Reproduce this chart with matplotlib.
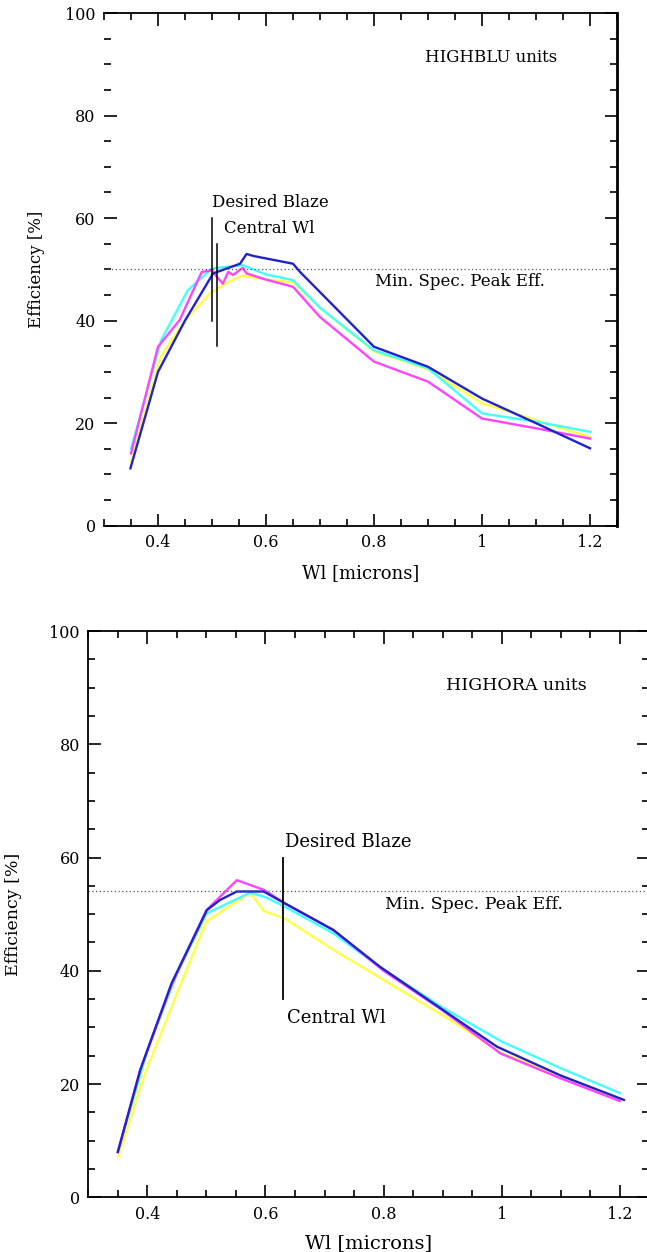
import matplotlib
matplotlib.use("Agg")
import matplotlib.pyplot as plt
from matplotlib.ticker import MultipleLocator, FixedLocator

plt.rcParams['font.family'] = ['DejaVu Serif']

# ---------------- data: top panel (HIGHBLU) ----------------
blu_yellow_x = [0.35, 0.405, 0.45, 0.496, 0.53, 0.557, 0.60, 0.65, 0.70, 0.80, 0.90, 1.00, 1.10, 1.20]
blu_yellow_y = [12.5, 33.0, 40.0, 45.3, 47.5, 48.8, 48.0, 47.5, 42.5, 34.0, 30.5, 23.9, 20.6, 17.3]

blu_cyan_x = [0.35, 0.406, 0.455, 0.50, 0.557, 0.60, 0.65, 0.70, 0.80, 0.90, 1.00, 1.10, 1.20]
blu_cyan_y = [15.0, 36.2, 45.9, 50.2, 50.8, 49.0, 47.9, 42.5, 34.2, 30.7, 21.9, 20.3, 18.3]

blu_magenta_x = [0.35, 0.40, 0.44, 0.481, 0.50, 0.507, 0.52, 0.53, 0.539, 0.557, 0.564, 0.60, 0.65, 0.70, 0.80, 0.90, 1.00, 1.10, 1.20]
blu_magenta_y = [14.1, 34.9, 40.1, 49.5, 49.8, 48.8, 47.2, 49.5, 48.9, 50.3, 49.2, 48.0, 46.6, 40.7, 32.0, 28.1, 20.9, 19.0, 17.0]

blu_blue_x = [0.349, 0.40, 0.45, 0.502, 0.552, 0.564, 0.577, 0.65, 0.663, 0.80, 0.90, 1.00, 1.10, 1.20]
blu_blue_y = [11.2, 30.0, 40.0, 49.2, 51.1, 53.0, 52.6, 51.1, 49.5, 34.9, 31.0, 24.8, 20.0, 15.1]

# ---------------- data: bottom panel (HIGHORA) ----------------
ora_yellow_x = [0.351, 0.394, 0.45, 0.50, 0.574, 0.597, 0.633, 0.715, 0.80, 0.913, 1.00, 1.10, 1.20]
ora_yellow_y = [7.2, 21.3, 36.0, 48.7, 53.8, 50.6, 49.2, 43.7, 38.4, 31.3, 25.5, 21.5, 17.2]

ora_cyan_x = [0.35, 0.40, 0.45, 0.50, 0.574, 0.60, 0.633, 0.715, 0.80, 0.90, 1.00, 1.10, 1.20]
ora_cyan_y = [8.0, 26.0, 39.5, 50.1, 53.8, 53.0, 51.3, 46.6, 40.2, 33.5, 27.5, 22.8, 18.4]

ora_magenta_x = [0.35, 0.388, 0.441, 0.50, 0.5515, 0.597, 0.633, 0.715, 0.80, 0.90, 0.998, 1.10, 1.20]
ora_magenta_y = [8.0, 22.5, 37.5, 50.7, 56.0, 54.3, 51.9, 47.2, 40.0, 33.0, 25.4, 21.0, 17.0]

ora_blue_x = [0.35, 0.388, 0.441, 0.5007, 0.523, 0.5515, 0.597, 0.633, 0.715, 0.794, 0.913, 0.992, 1.10, 1.207]
ora_blue_y = [8.0, 22.5, 37.8, 50.7, 52.5, 54.0, 54.0, 51.9, 47.2, 40.7, 32.2, 26.6, 21.5, 17.2]

xtick_vals = [0.4, 0.6, 0.8, 1.0, 1.2]
xtick_labels = ["0.4", "0.6", "0.8", "1", "1.2"]
ytick_vals = [0, 20, 40, 60, 80, 100]
ytick_labels = ["0", "20", "40", "60", "80", "100"]

C_YEL = '#ffff44'
C_CYA = '#44ffff'
C_MAG = '#ff44ff'
C_BLU = '#2222cc'

W, H = 647, 1252
fig = plt.figure(figsize=(W / 100, H / 100), dpi=100)

ax1 = fig.add_axes([104 / W, 1 - 525.7 / H, 513 / W, 512.7 / H])
ax2 = fig.add_axes([88.3 / W, 1 - 1197.3 / H, 561 / W, 566.3 / H])

FS = 11.5


def style(ax, hide_left):
    ax.set_xlim(0.3, 1.25)
    ax.set_ylim(0, 100)
    ax.xaxis.set_major_locator(FixedLocator(xtick_vals))
    ax.set_xticklabels(xtick_labels)
    ax.xaxis.set_minor_locator(MultipleLocator(0.05))
    ax.yaxis.set_major_locator(FixedLocator(ytick_vals))
    ax.set_yticklabels(ytick_labels)
    ax.yaxis.set_minor_locator(MultipleLocator(5))
    ax.tick_params(which='both', direction='in', top=True, right=True, width=1.2, labelsize=FS, pad=6)
    ax.tick_params(which='major', length=9)
    ax.tick_params(which='minor', length=5)
    for s in ax.spines.values():
        s.set_linewidth(1.3)
    ax.spines['right'].set_linewidth(2.0)
    if hide_left:
        ax.spines['left'].set_visible(False)


style(ax1, True)
style(ax2, False)

lw = 1.7
ax1.plot(blu_yellow_x, blu_yellow_y, color=C_YEL, lw=lw)
ax1.plot(blu_cyan_x, blu_cyan_y, color=C_CYA, lw=lw)
ax1.plot(blu_magenta_x, blu_magenta_y, color=C_MAG, lw=lw)
ax1.plot(blu_blue_x, blu_blue_y, color=C_BLU, lw=lw)

ax2.plot(ora_yellow_x, ora_yellow_y, color=C_YEL, lw=lw)
ax2.plot(ora_cyan_x, ora_cyan_y, color=C_CYA, lw=lw)
ax2.plot(ora_magenta_x, ora_magenta_y, color=C_MAG, lw=lw)
ax2.plot(ora_blue_x, ora_blue_y, color=C_BLU, lw=lw)

# reference lines
ax1.plot([0.3, 1.25], [50, 50], color='#555555', lw=0.9, ls=(0, (1, 2)))
ax1.plot([0.50, 0.50], [40, 60], color='black', lw=1.1)
ax1.plot([0.51, 0.51], [35, 55], color='black', lw=1.1)

ax2.plot([0.3, 1.25], [54, 54], color='#555555', lw=0.9, ls=(0, (1, 2)))
ax2.plot([0.63, 0.63], [35, 60], color='black', lw=1.3)

# annotations
FA1 = 12
FA2 = 13
ax1.text(0.894, 91.4, "HIGHBLU units", fontsize=FA1, va='center', ha='left')
ax1.text(0.50, 63.1, "Desired Blaze", fontsize=FA1, va='center', ha='left')
ax1.text(0.522, 58.0, "Central Wl", fontsize=FA1, va='center', ha='left')
ax1.text(0.802, 47.7, "Min. Spec. Peak Eff.", fontsize=FA1, va='center', ha='left')

ax2.text(0.905, 90.3, "HIGHORA units", fontsize=FA1 + 0.5, va='center', ha='left')
ax2.text(0.633, 62.7, "Desired Blaze", fontsize=FA2, va='center', ha='left')
ax2.text(0.803, 51.7, "Min. Spec. Peak Eff.", fontsize=FA1 + 0.5, va='center', ha='left')
ax2.text(0.636, 31.7, "Central Wl", fontsize=FA2, va='center', ha='left')

ax1.set_xlabel("Wl [microns]", fontsize=13)
ax1.set_ylabel("Efficiency [%]", fontsize=12)
ax1.xaxis.set_label_coords(0.5, -0.075)
ax1.yaxis.set_label_coords(-0.115, 0.5)

ax2.set_xlabel("Wl [microns]", fontsize=14)
ax2.set_ylabel("Efficiency [%]", fontsize=12.5)
ax2.xaxis.set_label_coords(0.5, -0.065)
ax2.yaxis.set_label_coords(-0.118, 0.5)

fig.savefig("out.png", dpi=100)
